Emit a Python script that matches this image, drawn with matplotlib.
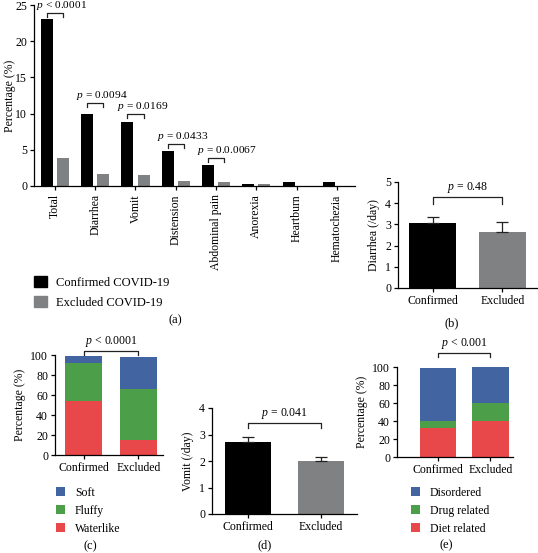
"""
Gastrointestinal symptoms: confirmed vs excluded COVID-19
"""
import matplotlib
matplotlib.use('Agg')
import matplotlib.pyplot as plt
from matplotlib.patches import Patch
import numpy as np

matplotlib.rcParams['font.family'] = ['Liberation Serif', 'DejaVu Serif']
matplotlib.rcParams['mathtext.fontset'] = 'custom'
matplotlib.rcParams['mathtext.it'] = 'Liberation Serif:italic'
matplotlib.rcParams['mathtext.rm'] = 'Liberation Serif'
matplotlib.rcParams['axes.linewidth'] = 0.9
matplotlib.rcParams['xtick.major.width'] = 0.9
matplotlib.rcParams['ytick.major.width'] = 0.9
matplotlib.rcParams['xtick.major.size'] = 3
matplotlib.rcParams['ytick.major.size'] = 3

# ---- data ----
symptoms = ['Total', 'Diarrhea', 'Vomit', 'Distension', 'Abdominal pain',
            'Anorexia', 'Heartburn', 'Hematochezia']
confirmed_pct = [23.0, 10.0, 8.8, 4.8, 2.9, 0.3, 0.5, 0.5]
excluded_pct = [3.8, 1.7, 1.5, 0.7, 0.5, 0.3, 0.0, 0.0]
p_labels_a = ['$p$ < 0.0001', '$p$ = 0.0094', '$p$ = 0.0169',
              '$p$ = 0.0433', '$p$ = 0.0.0067']
p_heights_a = [23.9, 11.5, 9.9, 5.8, 3.9]

groups = ['Confirmed', 'Excluded']
diarrhea_day = [3.05, 2.65]
diarrhea_err = [0.28, 0.45]
vomit_day = [2.72, 2.00]
vomit_err = [0.20, 0.15]

stool_labels = ['Waterlike', 'Fluffy', 'Soft']
stool_pct = {'Waterlike': [54, 15], 'Fluffy': [38, 51], 'Soft': [7, 32]}

cause_labels = ['Diet related', 'Drug related', 'Disordered']
cause_pct = {'Diet related': [32, 40], 'Drug related': [8, 20], 'Disordered': [59, 40]}

BLACK = '#000000'
GRAY = '#808183'
RED = '#e8484a'
GREEN = '#4c9f48'
BLUE = '#4264a0'
STACK_COLORS = [RED, GREEN, BLUE]

W, H = 538, 553
fig = plt.figure(figsize=(W / 100, H / 100), dpi=100)


def axes_px(left, top, right, bottom):
    return fig.add_axes([left / W, 1 - bottom / H, (right - left) / W, (bottom - top) / H])


def clean(ax):
    ax.spines['top'].set_visible(False)
    ax.spines['right'].set_visible(False)
    ax.tick_params(labelsize=8.5, length=3, pad=2)


def bracket(ax, x0, x1, y, drop, text, ty, fs=8.5, ha='center', tx=None):
    ax.plot([x0, x0, x1, x1], [y - drop, y, y, y - drop], color='#222222', lw=0.9,
            clip_on=False)
    if tx is None:
        tx = (x0 + x1) / 2
    ax.text(tx, ty, text, ha=ha, va='bottom', fontsize=fs, clip_on=False)


# ---- (a) ----
ax = axes_px(34, 5, 355, 186)
x = np.arange(len(symptoms))
bw = 0.3
ax.bar(x - 0.2, confirmed_pct, bw, color=BLACK)
ax.bar(x + 0.2, excluded_pct, bw, color=GRAY)
ax.set_xlim(-0.52, 7.45)
ax.set_ylim(0, 25)
ax.set_yticks([0, 5, 10, 15, 20, 25])
ax.set_xticks(x)
ax.set_xticklabels(symptoms, rotation=90)
clean(ax)
ax.tick_params(axis='x', pad=3)
ax.set_ylabel('Percentage (%)', fontsize=8.5)
ax.yaxis.set_label_coords(-0.055, 0.5)
for i, (lab, h) in enumerate(zip(p_labels_a, p_heights_a)):
    bracket(ax, i - 0.2, i + 0.2, h, 0.55, lab, h + 0.15, fs=8.2, ha='left', tx=i - 0.47)
ax.legend(handles=[Patch(color=BLACK), Patch(color=GRAY)],
          labels=['Confirmed COVID-19', 'Excluded COVID-19'],
          loc='upper left', bbox_to_anchor=(34 / W, 1 - 276 / H),
          bbox_transform=fig.transFigure, frameon=False, fontsize=9,
          handlelength=1.0, handleheight=1.0, labelspacing=0.55, handletextpad=0.8,
          borderaxespad=0, borderpad=0)
fig.text(175 / W, 1 - 320 / H, '(a)', ha='center', va='center', fontsize=9)

# ---- (b) ----
ax = axes_px(398, 182, 537, 288)
xb = np.arange(len(groups))
ax.bar(xb, diarrhea_day, 0.67, color=[BLACK, GRAY],
       yerr=[[0, 0], diarrhea_err], capsize=4.5,
       error_kw=dict(ecolor='#222222', elinewidth=0.9, capthick=0.9))
ax.set_xlim(-0.5, 1.5)
ax.set_ylim(0, 5)
ax.set_yticks([0, 1, 2, 3, 4, 5])
ax.set_xticks(xb)
ax.set_xticklabels(groups)
clean(ax)
ax.set_ylabel('Diarrhea (/day)', fontsize=8.5, labelpad=4)
bracket(ax, 0, 1, 4.3, 0.35, '$p$ = 0.48', 4.38)
fig.text(452 / W, 1 - 323 / H, '(b)', ha='center', va='center', fontsize=9)

# ---- (c) ----
ax = axes_px(55, 355, 163, 455)
bottom = np.zeros(2)
for lab, col in zip(stool_labels, STACK_COLORS):
    vals = np.array(stool_pct[lab])
    ax.bar(xb, vals, 0.67, bottom=bottom, color=col, label=lab)
    bottom += vals
ax.set_xlim(-0.52, 1.45)
ax.set_ylim(0, 100)
ax.set_yticks([0, 20, 40, 60, 80, 100])
ax.set_xticks(xb)
ax.set_xticklabels(groups)
clean(ax)
ax.set_ylabel('Percentage (%)', fontsize=8.5, labelpad=3)
bracket(ax, 0, 1, 104, 4, '$p$ < 0.0001', 106)
h, l = ax.get_legend_handles_labels()
ax.legend(h[::-1], l[::-1], loc='upper left', bbox_to_anchor=(56 / W, 1 - 487 / H),
          bbox_transform=fig.transFigure, frameon=False, fontsize=8.5,
          handlelength=0.8, handleheight=0.8, labelspacing=0.5, handletextpad=0.8,
          borderaxespad=0, borderpad=0)
fig.text(90 / W, 1 - 546 / H, '(c)', ha='center', va='center', fontsize=9)

# ---- (d) ----
ax = axes_px(212, 408, 357, 514)
ax.bar(xb, vomit_day, 0.64, color=[BLACK, GRAY],
       yerr=[[0, 0], vomit_err], capsize=4.5,
       error_kw=dict(ecolor='#222222', elinewidth=0.9, capthick=0.9))
ax.set_xlim(-0.5, 1.5)
ax.set_ylim(0, 4)
ax.set_yticks([0, 1, 2, 3, 4])
ax.set_xticks(xb)
ax.set_xticklabels(groups)
clean(ax)
ax.set_ylabel('Vomit (/day)', fontsize=8.5, labelpad=4)
bracket(ax, 0, 1, 3.43, 0.2, '$p$ = 0.041', 3.5)
fig.text(265 / W, 1 - 545 / H, '(d)', ha='center', va='center', fontsize=9)

# ---- (e) ----
ax = axes_px(397, 367, 513, 457)
bottom = np.zeros(2)
for lab, col in zip(cause_labels, STACK_COLORS):
    vals = np.array(cause_pct[lab])
    ax.bar(xb, vals, 0.69, bottom=bottom, color=col, label=lab)
    bottom += vals
ax.set_xlim(-0.78, 1.43)
ax.set_ylim(0, 100)
ax.set_yticks([0, 20, 40, 60, 80, 100])
ax.set_xticks(xb)
ax.set_xticklabels(groups)
clean(ax)
ax.set_ylabel('Percentage (%)', fontsize=8.5, labelpad=3)
bracket(ax, 0, 1, 115.5, 4, '$p$ < 0.001', 117.5)
h, l = ax.get_legend_handles_labels()
ax.legend(h[::-1], l[::-1], loc='upper left', bbox_to_anchor=(411 / W, 1 - 487 / H),
          bbox_transform=fig.transFigure, frameon=False, fontsize=8.5,
          handlelength=0.8, handleheight=0.8, labelspacing=0.5, handletextpad=0.8,
          borderaxespad=0, borderpad=0)
fig.text(446 / W, 1 - 545 / H, '(e)', ha='center', va='center', fontsize=9)

fig.savefig('out.png', dpi=100)
